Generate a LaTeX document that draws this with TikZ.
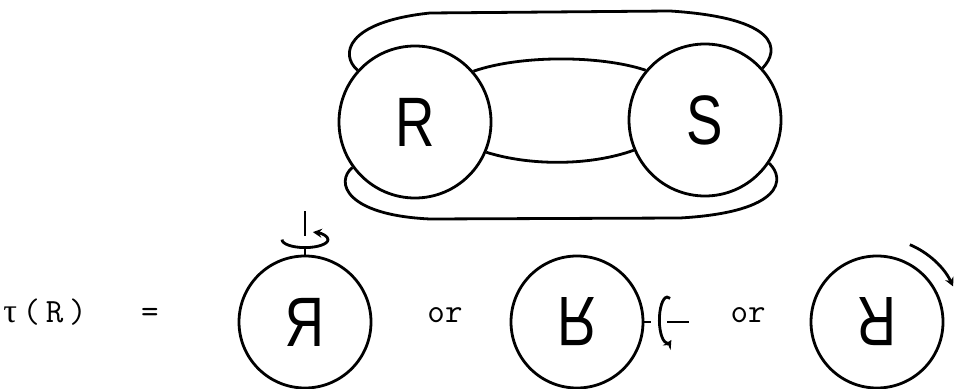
\documentclass[tikz,border=0pt]{standalone}
\usepackage{fontspec}
\setmainfont{Liberation Sans}
\newfontfamily\greekfont{Liberation Serif}
\usetikzlibrary{arrows.meta}
\newcommand\narrowglyph[1]{\scalebox{0.78}[1]{#1}}

\begin{document}
\begin{tikzpicture}[
  x=0.5pt, y=-0.5pt,
  ball/.style={circle, draw, line width=1.4pt, inner sep=0pt,
               font=\fontsize{35}{35}\selectfont},
  big/.style={ball, minimum size=76pt},
  small/.style={ball, minimum size=66pt},
  link/.style={line width=1.4pt},
  spin/.style={line width=1.4pt, -{Stealth[length=4.5pt, width=4.5pt]}},
  word/.style={anchor=base, inner sep=0pt, font=\ttfamily\fontsize{17}{17}\selectfont}
]
\useasboundingbox (0,0) rectangle (956,389);

% the two balls and their bands
\node[big] (R) at (415,122) {\narrowglyph{R}};
\node[big] (S) at (705,120) {\narrowglyph{S}};

\draw[link] (R.138) .. controls (340,55) and (345,22) .. (430,13) -- (670,11)
  .. controls (780,18) and (780,50) .. (S.42);
\draw[link] (R.216) .. controls (335,182) and (345,215) .. (430,219) -- (680,218)
  .. controls (785,212) and (785,178) .. (S.-34);
\draw[link] (R.41) .. controls (520,55) and (600,55) .. (S.140);
\draw[link] (R.-23) .. controls (530,166) and (590,166) .. (S.203);

% tau(R) and its three forms
\node[word] (tau) at (45,322) {{\greekfont τ}\,(\,R\,)};
\node[word] (eq) at (150,322) {=};
\node[small] (flipA) at (305,322) {\reflectbox{\narrowglyph{R}}};
\node[word] (or1) at (445,322) {or};
\node[small] (flipB) at (577,322) {\rotatebox{180}{\reflectbox{\narrowglyph{R}}}};
\node[word] (or2) at (748,322) {or};
\node[small] (flipC) at (877,322) {\rotatebox{180}{\narrowglyph{R}}};

% spin about the vertical axis
\draw[link] (flipA.north) -- ++(0,-7);
\draw[link] ([shift={(0,-19)}]flipA.north) -- ++(0,-25);
\draw[spin] ([shift={(-23,-15)}]flipA.north)
  arc[start angle=180, end angle=-70, x radius=23, y radius=8];

% spin about the horizontal axis
\draw[link] (flipB.east) -- ++(7,0);
\draw[spin] ([shift={(25.7,-23.6)}]flipB.east)
  arc[start angle=-70, end angle=-300, x radius=8, y radius=23];
\draw[link] ([shift={(23,0)}]flipB.east) -- ++(22,0);

% turn in the plane
\draw[spin] ([shift={(-67:84)}]flipC.center) arc[start angle=-67, end angle=-25, radius=84];
\end{tikzpicture}
\end{document}
